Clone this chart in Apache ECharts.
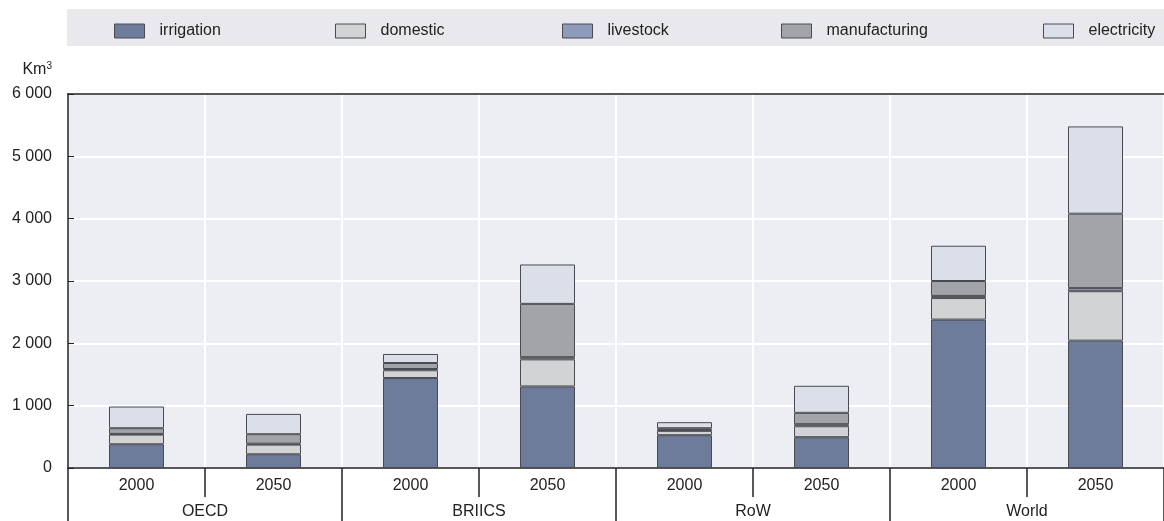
<!DOCTYPE html>
<html>
<head>
<meta charset="utf-8">
<script src="https://cdn.jsdelivr.net/npm/echarts@6/dist/echarts.min.js"></script>
<style>
html,body{margin:0;padding:0;background:#fff;}
#chart{width:1164px;height:521px;}
</style>
</head>
<body>
<div id="chart"></div>
<script>
const groups = ['OECD', 'BRIICS', 'RoW', 'World'];
const years = ['2000', '2050', '2000', '2050', '2000', '2050', '2000', '2050'];
const yTicks = [0, 1000, 2000, 3000, 4000, 5000, 6000];

const irrigation    = [381, 220, 1443, 1308, 526, 494, 2381, 2043];
const domestic      = [155, 155, 125, 435, 70, 176, 345, 793];
const livestock     = [11, 15, 20, 35, 15, 33, 35, 50];
const manufacturing = [91, 152, 96, 855, 27, 182, 239, 1194];
const electricity   = [348, 326, 145, 632, 97, 434, 566, 1400];

const seriesDefs = [
  {name: 'irrigation', data: irrigation, color: '#6e7c9c'},
  {name: 'domestic', data: domestic, color: '#d2d3d5'},
  {name: 'livestock', data: livestock, color: '#8f9bbb'},
  {name: 'manufacturing', data: manufacturing, color: '#a3a4a7'},
  {name: 'electricity', data: electricity, color: '#dbdfe9'}
];
const legendLeft = [114, 335, 562, 781, 1043];

const font = '"Liberation Sans", Arial, sans-serif';
const chart = echarts.init(document.getElementById('chart'), null, {renderer: 'canvas'});

chart.setOption({
  animation: false,
  textStyle: {fontFamily: font},
  graphic: [{
    type: 'rect', left: 67, top: 9, z: -1,
    shape: {width: 1097, height: 37},
    style: {fill: '#e9e9ed'}
  }],
  legend: seriesDefs.map((s, i) => ({
    left: legendLeft[i], top: 23,
    icon: 'rect',
    itemWidth: 30, itemHeight: 14, padding: 0,
    itemStyle: {borderColor: '#4a4a50', borderWidth: 1},
    textStyle: {fontSize: 16, color: '#222', fontFamily: font, padding: [0, 0, 0, 10]},
    data: [s.name]
  })),
  grid: {
    left: 68, right: 0, top: 94, bottom: 53,
    show: true, backgroundColor: '#edeef3', borderWidth: 0
  },
  xAxis: [
    {
      type: 'category', data: years, position: 'bottom',
      axisLine: {show: true, lineStyle: {color: '#222', width: 1.5}},
      axisTick: {show: true, alignWithLabel: false, length: 29, lineStyle: {color: '#222', width: 1.5}},
      axisLabel: {fontSize: 16, color: '#222', margin: 10, fontFamily: font},
      splitLine: {show: true, interval: 0, lineStyle: {color: '#ffffff', width: 2}}
    },
    {
      type: 'category', data: groups, position: 'bottom',
      axisLine: {show: false},
      axisTick: {show: true, length: 54, lineStyle: {color: '#222', width: 1.5}},
      axisLabel: {fontSize: 16, color: '#222', margin: 36, fontFamily: font},
      splitLine: {show: false}
    },
    {
      type: 'category', data: years, position: 'top',
      axisLine: {show: true, lineStyle: {color: '#222', width: 1.5}},
      axisTick: {show: false}, axisLabel: {show: false}, splitLine: {show: false}
    }
  ],
  yAxis: {
    type: 'value', min: yTicks[0], max: yTicks[yTicks.length - 1], interval: 1000,
    name: 'Km{sup|3}',
    nameLocation: 'end', nameGap: 24,
    nameTextStyle: {
      fontSize: 16, color: '#222', align: 'right', verticalAlign: 'middle',
      padding: [0, 16, 0, 0], fontFamily: font,
      rich: {sup: {fontSize: 10, verticalAlign: 'top', padding: [0, 0, 8, 0], color: '#222'}}
    },
    axisLine: {show: true, lineStyle: {color: '#222', width: 1.5}},
    axisTick: {show: true, inside: true, length: 6, lineStyle: {color: '#222'}},
    axisLabel: {
      fontSize: 16, color: '#222', margin: 16, fontFamily: font,
      formatter: v => v >= 1000 ? Math.floor(v / 1000) + ' ' + String(v % 1000).padStart(3, '0') : String(v)
    },
    splitLine: {show: true, lineStyle: {color: '#ffffff', width: 2}}
  },
  series: seriesDefs.map(s => ({
    name: s.name, type: 'bar', stack: 'total', xAxisIndex: 0,
    data: s.data, barWidth: 55,
    itemStyle: {color: s.color, borderColor: '#4a4a50', borderWidth: 1}
  }))
});
</script>
</body>
</html>
